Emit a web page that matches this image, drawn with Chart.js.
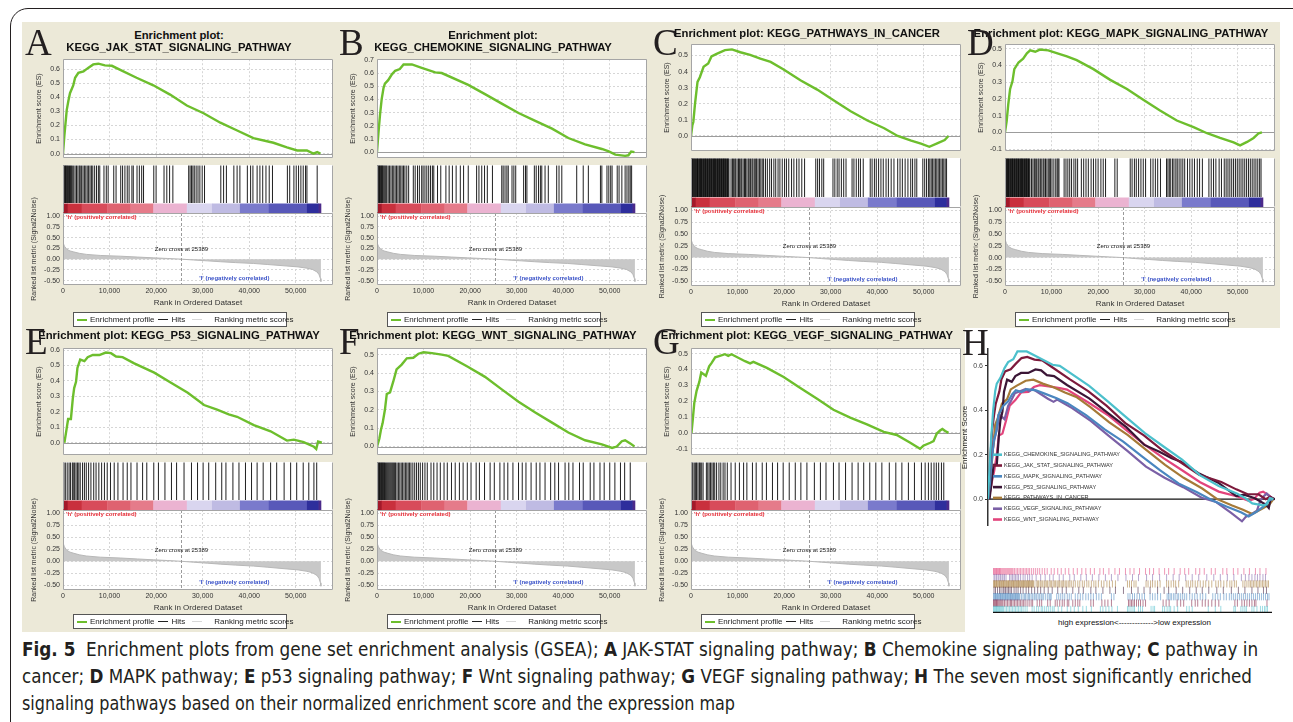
<!DOCTYPE html>
<html lang="en">
<head>
<meta charset="UTF-8">
<title>Fig. 5 GSEA enrichment plots</title>
<script src="https://cdn.jsdelivr.net/npm/chart.js"></script>
<style>
  body { margin: 0; background: #fff; }
  #page { position: relative; width: 1293px; height: 722px; overflow: hidden; font-family: "Liberation Sans", Arial, sans-serif; color: #222; }
  #page div { position: absolute; }
  .frame { left: 10px; top: 8px; width: 1320px; height: 760px; border: 1px solid #231f20; border-radius: 18px; }
  .beige { background: #ece9d8; }
  .ttl { font-weight: bold; font-size: 11.3px; line-height: 12px; text-align: center; white-space: nowrap; color: #111; }
  .letter { font-family: "Liberation Serif", "Times New Roman", serif; font-size: 37px; line-height: 37px; color: #231f20; }
  .lg { border: 1px solid #555; background: #fff; font-size: 8px; line-height: 13px; white-space: nowrap; color: #222; box-sizing: border-box; padding-left: 1px; }
  .lg i { display: inline-block; width: 10px; height: 1px; vertical-align: middle; margin: 0 3px 0 2px; }
  .cap { left: 22px; font-size: 19px; line-height: 27px; white-space: nowrap; color: #231f20; transform-origin: 0 50%;
         font-family: "Liberation Sans Narrow", "DejaVu Sans Condensed", "Liberation Sans", sans-serif; }
  .note { font-size: 8px; white-space: nowrap; color: #111; }
  canvas { display: block; }
</style>
</head>
<body>
<div id="page">
  <div class="frame"></div>
  <div class="beige" style="left:22px;top:22px;width:1258px;height:306px"></div>
  <div class="beige" style="left:22px;top:328px;width:943px;height:304px"></div>
  <div class="cap" id="cap1" style="top:636px"><b>Fig. 5</b>&nbsp; Enrichment plots from gene set enrichment analysis (GSEA); <b>A</b> JAK-STAT signaling pathway; <b>B</b> Chemokine signaling pathway; <b>C</b> pathway in</div>
  <div class="cap" id="cap2" style="top:663px">cancer; <b>D</b> MAPK pathway; <b>E</b> p53 signaling pathway; <b>F</b> Wnt signaling pathway; <b>G</b> VEGF signaling pathway; <b>H</b> The seven most significantly enriched</div>
  <div class="cap" id="cap3" style="top:690px">signaling pathways based on their normalized enrichment score and the expression map</div>
</div>
<script>
// ranks are in thousands
const esJakStat = [[0,0],[0.3,0.13],[0.8,0.31],[1.15,0.375],[1.5,0.43],[2.2,0.485],[2.6,0.54],[3.3,0.575],[4.4,0.585],[5.4,0.61],[6.5,0.635],[7.6,0.64],[9.0,0.628],[10.5,0.625],[12.3,0.596],[15.8,0.54],[19.4,0.486],[23.0,0.42],[26.6,0.342],[30.2,0.287],[33.8,0.22],[37.3,0.166],[40.9,0.11],[45.2,0.077],[48.1,0.044],[50.3,0.022],[52.4,0.022],[53.8,0.0],[54.6,0.011],[55.3,0.0]];
const esChemokine = [[0,0],[0.3,0.14],[0.65,0.285],[1.0,0.40],[1.4,0.487],[1.7,0.52],[2.4,0.546],[3.2,0.59],[3.9,0.617],[4.9,0.63],[5.7,0.665],[7.5,0.665],[9.6,0.64],[12.5,0.605],[13.9,0.60],[19.6,0.51],[23.2,0.44],[26.8,0.368],[30.4,0.297],[34.0,0.237],[37.6,0.178],[41.1,0.107],[44.7,0.059],[48.3,0.024],[49.8,0.005],[51.2,-0.019],[53.3,-0.028],[54.0,-0.024],[54.6,0.005],[55.3,0.0]];
const esCancer = [[0,0],[0.3,0.067],[0.5,0.087],[0.86,0.2],[1.4,0.336],[1.9,0.365],[2.7,0.43],[3.7,0.45],[4.4,0.494],[5.5,0.51],[7.3,0.533],[8.8,0.538],[10.6,0.52],[12.7,0.504],[14.9,0.48],[17.1,0.46],[19.9,0.413],[23.5,0.346],[27.1,0.288],[30.7,0.221],[34.3,0.154],[37.9,0.096],[41.5,0.048],[44.4,0.0],[47.3,-0.029],[49.4,-0.048],[51.2,-0.067],[53.0,-0.044],[54.5,-0.025],[55.3,0.0]];
const esMapk = [[0,0],[0.36,0.067],[0.7,0.168],[1.1,0.26],[1.6,0.305],[2.0,0.378],[2.9,0.418],[3.9,0.44],[4.7,0.473],[5.4,0.49],[6.5,0.482],[7.5,0.495],[9.3,0.49],[11.1,0.474],[13.3,0.454],[15.4,0.432],[19.0,0.378],[22.6,0.314],[26.2,0.259],[29.7,0.195],[33.3,0.131],[36.9,0.071],[40.5,0.031],[43.4,-0.005],[46.2,-0.033],[49.1,-0.06],[50.5,-0.078],[52.0,-0.057],[53.4,-0.033],[54.5,-0.005],[55.2,0.0]];
const esP53 = [[0.3,0],[0.64,0.064],[1.1,0.154],[1.7,0.154],[2.1,0.284],[2.4,0.354],[2.8,0.394],[3.1,0.484],[3.7,0.538],[4.6,0.528],[5.3,0.554],[6.4,0.568],[7.8,0.568],[9.2,0.584],[10.3,0.58],[11.4,0.558],[12.8,0.554],[15.3,0.514],[19.6,0.454],[23.2,0.388],[26.8,0.324],[30.3,0.244],[33.1,0.214],[35.6,0.184],[37.4,0.168],[41.0,0.114],[44.6,0.074],[48.1,0.014],[49.6,0.02],[51.7,0.004],[53.9,-0.026],[54.4,-0.04],[54.8,0.008],[55.6,0.0]];
const esWnt = [[0,0],[0.5,0.042],[0.86,0.093],[1.2,0.126],[1.7,0.2],[2.1,0.286],[2.8,0.295],[3.5,0.354],[4.2,0.42],[5.3,0.446],[6.4,0.48],[7.8,0.483],[8.9,0.505],[10.0,0.513],[11.8,0.508],[13.9,0.5],[15.3,0.493],[19.6,0.433],[23.2,0.379],[26.8,0.311],[30.4,0.244],[34.0,0.185],[37.6,0.13],[41.1,0.076],[44.7,0.034],[48.3,0.012],[50.5,-0.008],[51.5,0.0],[52.6,0.029],[53.3,0.034],[54.4,0.017],[55.3,0.0]];
const esVegf = [[0.1,0],[0.36,0.077],[0.7,0.188],[1.2,0.265],[1.8,0.323],[2.2,0.38],[3.2,0.36],[3.9,0.42],[4.4,0.44],[5.2,0.477],[6.2,0.486],[7.3,0.496],[8.0,0.486],[8.7,0.496],[11.6,0.452],[12.7,0.438],[13.4,0.448],[16.3,0.41],[19.9,0.352],[23.4,0.285],[27.0,0.217],[30.6,0.146],[34.2,0.096],[37.8,0.054],[41.4,0.006],[44.2,-0.013],[47.1,-0.062],[49.2,-0.1],[49.9,-0.081],[51.4,-0.062],[52.1,-0.052],[52.8,-0.004],[53.5,0.015],[54.0,0.025],[54.6,0.012],[55.3,0.0]];

const hitsJakStat = [0.1,0.25,0.4,0.55,0.7,0.85,1.0,1.2,1.4,1.6,1.8,2.0,2.3,2.6,2.9,3.2,3.5,3.7,4.0,4.3,4.6,4.9,5.2,5.5,5.8,6.1,6.4,6.8,7.2,7.6,7.9,8.8,9.3,9.7,10.9,11.4,12.4,12.8,13.3,13.8,14.2,14.8,15.1,15.9,16.4,16.9,17.3,19.5,20.0,21.7,22.3,22.9,23.6,27.0,27.3,27.6,27.9,28.2,28.6,29.0,29.4,29.9,30.4,33.9,34.5,35.1,36.7,37.4,38.0,39.6,40.3,40.8,41.7,42.3,42.9,43.6,44.3,45.0,48.2,48.7,49.6,50.1,50.6,51.1,51.6,52.1,52.4,54.6];
const hitsChemokine = [0.1,0.25,0.4,0.55,0.7,0.85,1.0,1.15,1.3,1.5,1.7,1.9,2.1,2.4,2.7,3.0,3.3,3.6,3.9,4.2,4.5,4.8,5.1,5.4,5.7,6.0,6.4,6.8,7.8,8.2,8.7,9.1,9.6,9.9,10.3,10.7,11.1,11.5,11.9,12.2,13.0,13.7,14.8,15.5,16.2,17.0,17.9,18.6,19.6,21.4,21.9,22.5,23.1,23.7,24.8,26.8,27.1,27.5,27.9,28.2,29.0,29.4,29.8,31.5,31.9,32.2,33.8,34.2,34.7,35.1,35.4,36.1,36.8,38.6,39.1,39.7,42.9,44.3,45.4,48.0,48.3,49.4,49.8,50.2,50.5,51.6,52.0,52.6,53.3,53.7,54.1,54.4,54.7];
const hitsCancer = [0.05,0.2,0.3,0.45,0.6,0.7,0.85,1.0,1.15,1.3,1.4,1.55,1.7,1.85,2.0,2.1,2.25,2.4,2.55,2.7,2.85,3.0,3.1,3.25,3.4,3.55,3.7,3.85,4.0,4.1,4.25,4.4,4.55,4.7,4.85,5.0,5.1,5.25,5.4,5.55,5.7,5.85,6.0,6.1,6.25,6.4,6.55,6.7,6.85,7.0,7.1,7.25,7.4,7.55,7.7,7.85,8.0,8.15,8.6,8.9,9.1,9.4,9.6,9.9,10.2,10.4,10.7,10.9,11.2,11.5,11.7,12.0,12.3,12.5,12.8,13.1,13.3,13.6,13.9,14.1,14.4,14.7,15.0,15.3,15.6,16.0,16.4,16.9,17.3,17.8,18.2,18.7,19.1,19.6,20.1,20.5,21.0,21.6,22.1,22.7,23.2,23.8,24.4,26.8,27.2,27.6,28.1,28.5,30.5,30.9,31.4,31.8,32.3,32.8,33.3,34.6,35.0,35.5,36.0,36.4,37.0,38.5,38.9,39.4,39.8,40.3,40.8,41.3,41.9,42.4,43.0,43.6,44.4,44.9,45.4,46.0,46.6,47.2,47.6,48.1,48.5,49.8,50.2,50.6,51.0,51.3,51.6,51.9,52.2,52.5,52.8,53.1,53.4,53.7,54.0,54.3,54.6,54.9];
const hitsMapk = [0.05,0.2,0.35,0.5,0.6,0.75,0.9,1.05,1.2,1.35,1.5,1.6,1.75,1.9,2.05,2.2,2.35,2.5,2.6,2.75,2.9,3.05,3.2,3.35,3.5,3.6,3.75,3.9,4.05,4.2,4.35,4.5,4.6,4.75,4.9,5.05,5.2,5.35,5.7,6.0,6.3,6.5,6.8,7.1,7.3,7.6,7.9,8.2,8.4,8.7,9.0,9.3,9.6,9.8,10.1,10.5,10.9,11.2,11.4,11.6,12.7,13.1,13.5,13.9,14.3,14.8,15.2,15.6,16.4,16.9,17.4,17.9,18.5,19.0,19.5,20.0,20.6,21.1,21.6,23.6,24.1,26.9,27.3,27.8,28.2,28.7,29.2,29.7,30.2,31.3,31.8,32.3,32.8,33.4,34.7,35.0,35.3,35.6,36.0,36.3,36.7,37.0,37.4,37.8,38.2,38.6,39.2,39.7,40.2,40.7,41.3,41.8,42.4,43.8,44.3,44.8,45.3,46.0,46.5,47.1,47.5,47.9,48.3,48.7,49.1,49.5,49.9,50.3,50.7,51.1,51.5,51.9,52.3,52.7,53.1,53.5,53.9,54.3,54.7,55.0];
const hitsP53 = [0.2,0.5,0.9,1.3,1.6,2.0,2.2,2.5,2.8,3.1,3.4,3.7,4.2,4.6,5.0,5.5,6.0,6.6,7.1,7.7,8.3,8.9,9.5,10.2,11.0,11.8,12.9,13.8,14.6,15.9,17.1,18.0,19.5,20.5,21.9,23.3,24.4,26.0,27.6,28.9,30.1,31.3,32.8,34.1,35.0,36.5,37.8,39.2,40.5,41.7,43.0,44.6,45.9,47.5,48.9,50.2,51.6,52.8,53.9,54.5];
const hitsWnt = [0.1,0.25,0.4,0.55,0.7,0.85,1.0,1.15,1.3,1.45,1.6,1.8,2.0,2.2,2.4,2.6,2.8,3.0,3.2,3.4,3.6,3.8,4.0,4.3,4.6,4.9,5.2,5.5,5.8,6.1,6.4,6.7,7.0,7.3,7.7,8.1,8.5,8.9,9.3,9.8,10.3,10.8,11.6,12.2,12.9,13.6,14.4,15.1,16.0,16.8,17.7,18.5,19.4,20.2,21.3,22.0,23.1,24.3,25.2,26.4,27.3,28.1,29.2,30.4,31.2,32.0,33.1,34.2,35.0,36.1,37.3,38.2,39.0,40.4,41.2,42.1,43.5,44.3,45.8,46.6,47.9,48.8,50.0,51.1,52.3,53.2,54.4];
const hitsVegf = [0.2,0.4,0.7,1.0,1.2,1.5,1.8,2.0,2.3,2.6,3.3,3.6,3.9,4.2,4.5,4.8,5.1,5.5,6.0,6.4,6.9,7.3,7.8,8.6,9.5,10.4,11.3,12.0,13.2,14.0,15.3,16.2,17.5,18.6,19.8,21.1,22.4,23.6,24.9,26.5,27.8,29.0,30.6,31.8,33.2,34.6,35.9,37.1,38.4,39.7,41.0,42.6,44.0,45.3,46.7,48.0,49.5,50.3,51.0,51.6,52.2,52.7,53.2,53.8,54.3];

const rankPos = [0,0.1,0.3,0.8,1.5,2.2,3.5,5,8,12.3,16,19.4,22.5,25.389,28,31,33.8,37,40.9,44,48.1,50.5,52.4,53.6,54.6,55.0,55.3,55.4];
const rankMetric = [0.42,0.36,0.3,0.23,0.19,0.17,0.135,0.11,0.085,0.068,0.048,0.03,0.015,0,-0.02,-0.04,-0.06,-0.08,-0.1,-0.125,-0.16,-0.18,-0.21,-0.24,-0.3,-0.36,-0.45,-0.52];
const zeroCross = 25.389;
const bandEdges = [0,1.0,4.0,9.5,14.5,19.4,26.6,32,38,44.2,52.4,54.9,55.4];
const bandColours = ['#a3192a','#c9303d','#d84b5a','#df6270','#e57b8a','#ebb3d1','#d9d5ef','#bfbbe3','#7a7acc','#5858b9','#2e2e9c','#4b2a8a'];

// axis ranges (ES min, ES max)
const panels = [
  {id:'A', name:'KEGG_JAK_STAT_SIGNALING_PATHWAY', es:esJakStat, hits:hitsJakStat, range:[-0.03,0.672], col:0, row:'top2'},
  {id:'B', name:'KEGG_CHEMOKINE_SIGNALING_PATHWAY', es:esChemokine, hits:hitsChemokine, range:[-0.043,0.705], col:1, row:'top2'},
  {id:'C', name:'KEGG_PATHWAYS_IN_CANCER', es:esCancer, hits:hitsCancer, range:[-0.092,0.57], col:2, row:'top1'},
  {id:'D', name:'KEGG_MAPK_SIGNALING_PATHWAY', es:esMapk, hits:hitsMapk, range:[-0.11,0.527], col:3, row:'top1'},
  {id:'E', name:'KEGG_P53_SIGNALING_PATHWAY', es:esP53, hits:hitsP53, range:[-0.078,0.612], col:0, row:'bottom'},
  {id:'F', name:'KEGG_WNT_SIGNALING_PATHWAY', es:esWnt, hits:hitsWnt, range:[-0.045,0.535], col:1, row:'bottom'},
  {id:'G', name:'KEGG_VEGF_SIGNALING_PATHWAY', es:esVegf, hits:hitsVegf, range:[-0.138,0.534], col:2, row:'bottom'}
];
// legend order in panel H
const hNames = ['KEGG_CHEMOKINE_SIGNALING_PATHWAY','KEGG_JAK_STAT_SIGNALING_PATHWAY','KEGG_MAPK_SIGNALING_PATHWAY','KEGG_P53_SIGNALING_PATHWAY','KEGG_PATHWAYS_IN_CANCER','KEGG_VEGF_SIGNALING_PATHWAY','KEGG_WNT_SIGNALING_PATHWAY'];
const hColours = ['#4cc0cc','#7d1a3c','#4a86c0','#3b1636','#a67a38','#7b60a6','#e2447c'];
const hTicks = [0, 0.2, 0.4, 0.6];

// layout
const rows = {
  top2:   {titles:[35,47], esTop:58,  esBot:165, hitsBot:213, rankBot:285, legendTop:312, letterTop:30},
  top1:   {titles:[33],    esTop:43,  esBot:158, hitsBot:207, rankBot:286, legendTop:312, letterTop:30},
  bottom: {titles:[335],   esTop:347, esBot:462, hitsBot:510, rankBot:590, legendTop:614, letterTop:329}
};
const BOX_W = 270, X_MAX = 58, GREEN = '#6dbe2d', GRID = '#d6d6d6';

Chart.defaults.font.family = '"Liberation Sans", Arial, sans-serif';
Chart.defaults.animation = false;
Chart.defaults.events = [];
Chart.defaults.plugins.legend.display = false;
Chart.defaults.plugins.tooltip.enabled = false;

const page = document.getElementById('page');
function place(cls, left, top, w, h, html) {
  const d = document.createElement('div');
  d.className = cls;
  d.style.left = left + 'px'; d.style.top = top + 'px';
  if (w != null) d.style.width = w + 'px';
  if (h != null) d.style.height = h + 'px';
  if (html) d.innerHTML = html;
  page.appendChild(d);
  return d;
}
function makeCanvas(left, top, w, h) {
  const wrap = place('', left, top, w, h);
  const cv = document.createElement('canvas');
  cv.width = w; cv.height = h;
  cv.style.width = w + 'px'; cv.style.height = h + 'px';
  wrap.appendChild(cv);
  return cv;
}
const toXY = arr => arr.map(([x, y]) => ({x, y}));
const fmtRank = v => (v * 1000).toLocaleString('en-US');

const paintArea = { id: 'paintArea', beforeDraw(ch) {
  const a = ch.chartArea, c = ch.ctx;
  c.save(); c.fillStyle = '#fff'; c.fillRect(a.left, a.top, a.right - a.left, a.bottom - a.top); c.restore();
}};
function outline(sides) {
  return { id: 'outline', afterDraw(ch) {
    const a = ch.chartArea, c = ch.ctx;
    const l = Math.round(a.left) + 0.5, r = Math.round(a.right) - 0.5, t = Math.round(a.top) + 0.5, b = Math.round(a.bottom) - 0.5;
    c.save(); c.strokeStyle = '#a5a5a5'; c.lineWidth = 1; c.beginPath();
    if (sides.includes('t')) { c.moveTo(l, t); c.lineTo(r, t); }
    if (sides.includes('b')) { c.moveTo(l, b); c.lineTo(r, b); }
    if (sides.includes('l')) { c.moveTo(l, t); c.lineTo(l, b); }
    if (sides.includes('r')) { c.moveTo(r, t); c.lineTo(r, b); }
    c.stroke(); c.restore();
  }};
}
const zeroLine = { id: 'zeroLine', beforeDatasetsDraw(ch) {
  const a = ch.chartArea, c = ch.ctx, y = Math.round(ch.scales.y.getPixelForValue(0)) + 0.5;
  c.save(); c.strokeStyle = '#9c9c9c'; c.lineWidth = 1;
  c.beginPath(); c.moveTo(a.left, y); c.lineTo(a.right, y); c.stroke(); c.restore();
}};
const colourBar = { id: 'colourBar', beforeDatasetsDraw(ch) {
  const xs = ch.scales.x, ys = ch.scales.y, c = ch.ctx;
  const y1 = ys.getPixelForValue(0), y2 = ys.getPixelForValue(ys.min);
  c.save();
  for (let i = 0; i < bandColours.length; i++) {
    const x1 = xs.getPixelForValue(bandEdges[i]), x2 = xs.getPixelForValue(bandEdges[i + 1]);
    c.fillStyle = bandColours[i];
    c.fillRect(x1, y1, x2 - x1 + 0.4, y2 - y1);
  }
  c.restore();
}};
const rankNotes = { id: 'rankNotes', afterDatasetsDraw(ch) {
  const xs = ch.scales.x, ys = ch.scales.y, a = ch.chartArea, c = ch.ctx;
  const xz = Math.round(xs.getPixelForValue(zeroCross)) + 0.5;
  c.save();
  c.strokeStyle = '#9a9a9a'; c.lineWidth = 1; c.setLineDash([3, 2]);
  c.beginPath(); c.moveTo(xz, a.top); c.lineTo(xz, a.bottom); c.stroke(); c.setLineDash([]);
  c.font = 'bold 6px "Liberation Sans", Arial'; c.fillStyle = '#e8323c'; c.textAlign = 'left'; c.textBaseline = 'top';
  c.fillText("'h' (positively correlated)", a.left + 3, a.top + 1);
  c.font = '6px "Liberation Sans", Arial'; c.fillStyle = '#222'; c.textAlign = 'center'; c.textBaseline = 'middle';
  c.fillText('Zero cross at ' + Math.round(zeroCross * 1000), xz, ys.getPixelForValue(0.23));
  c.font = 'bold 6px "Liberation Sans", Arial'; c.fillStyle = '#3a52c8';
  c.fillText("'l' (negatively correlated)", xs.getPixelForValue(36.8), ys.getPixelForValue(-0.45));
  c.restore();
}};

function xAxisBase(extra) {
  return Object.assign({ type: 'linear', min: 0, max: X_MAX,
    grid: { color: GRID, drawTicks: false }, border: { display: false, dash: [2, 2] } }, extra);
}

function esChart(p, L, boxL) {
  const W = 28;
  const cv = makeCanvas(boxL - W, L.esTop - 6, W + BOX_W + 2, L.esBot - L.esTop + 6);
  new Chart(cv, {
    type: 'line',
    data: { datasets: [{ label: 'Enrichment profile', data: toXY(p.es), borderColor: GREEN, borderWidth: 2.4, pointRadius: 0, tension: 0 }] },
    options: {
      responsive: false,
      layout: { padding: { top: 6, right: 2, left: 0, bottom: 0 } },
      scales: {
        x: xAxisBase({ ticks: { display: false, stepSize: 10, includeBounds: false }, afterFit: s => { s.height = 0; } }),
        y: { min: p.range[0], max: p.range[1],
             ticks: { stepSize: 0.1, includeBounds: false, autoSkip: false, callback: v => v.toFixed(1), font: { size: 7 }, color: '#333', padding: 3 },
             grid: { color: GRID, drawTicks: false }, border: { display: false, dash: [2, 2] },
             title: { display: true, text: 'Enrichment score (ES)', font: { size: 7 }, color: '#333', padding: 0 },
             afterFit: s => { s.width = W; } }
      }
    },
    plugins: [paintArea, zeroLine, outline('tblr')]
  });
}

function hitsChart(p, L, boxL) {
  const h = L.hitsBot - L.esBot, cb = 9.5;
  const cv = makeCanvas(boxL, L.esBot, BOX_W + 2, h);
  new Chart(cv, {
    type: 'scatter',
    data: { datasets: [{ label: 'Hits', data: p.hits.map(x => ({x, y: 0.5})),
      pointStyle: 'line', pointRotation: 90, pointBorderColor: 'rgba(0,0,0,0.88)', pointBorderWidth: 1,
      pointRadius: ctx => { const y = ctx.chart.scales.y; return (y.getPixelForValue(0) - y.getPixelForValue(1)) / 2 - 0.5; } }] },
    options: {
      responsive: false,
      layout: { padding: { right: 2 } },
      scales: { x: { type: 'linear', display: false, min: 0, max: X_MAX }, y: { display: false, min: -cb / (h - cb), max: 1 } }
    },
    plugins: [paintArea, colourBar, outline('lr')]
  });
}

function rankChart(p, L, boxL) {
  const W = 33, padTop = L.hitsBot - L.esBot;
  const cv = makeCanvas(boxL - W, L.esBot, W + BOX_W + 2, L.rankBot - L.esBot + 23);
  new Chart(cv, {
    type: 'line',
    data: { datasets: [{ label: 'Ranking metric scores', data: rankPos.map((x, i) => ({x, y: rankMetric[i]})),
      borderColor: '#b8b8b8', backgroundColor: '#c8c8c8', borderWidth: 1, pointRadius: 0, fill: 'origin' }] },
    options: {
      responsive: false,
      layout: { padding: { top: padTop, right: 2, left: 0, bottom: 0 } },
      scales: {
        x: xAxisBase({ ticks: { stepSize: 10, includeBounds: false, callback: fmtRank, font: { size: 7 }, color: '#333', padding: 2, maxRotation: 0 },
             title: { display: true, text: 'Rank in Ordered Dataset', font: { size: 8 }, color: '#333', padding: { top: 2, bottom: 0 } },
             afterFit: s => { s.height = 23; } }),
        y: { min: -0.6, max: 1.07,
             ticks: { stepSize: 0.25, includeBounds: false, autoSkip: false, callback: v => v.toFixed(2), font: { size: 7 }, color: '#333', padding: 3 },
             grid: { color: GRID, drawTicks: false }, border: { display: false, dash: [2, 2] },
             title: { display: true, text: 'Ranked list metric (Signal2Noise)', font: { size: 7 }, color: '#333', padding: 0 },
             afterFit: s => { s.width = W; } }
      }
    },
    plugins: [paintArea, rankNotes, outline('tblr')]
  });
}

panels.forEach(p => {
  const L = rows[p.row];
  const panelLeft = 22 + 314 * p.col, boxL = 63 + 314 * p.col;
  esChart(p, L, boxL);
  hitsChart(p, L, boxL);
  rankChart(p, L, boxL);
  const lines = L.titles.length === 2 ? ['Enrichment plot:', p.name] : ['Enrichment plot: ' + p.name];
  lines.forEach((t, i) => place('ttl', panelLeft, L.titles[i] - 6, 314, 12).textContent = t);
  place('lg', boxL + 10, L.legendTop, 214, 15,
    '<i style="background:' + GREEN + ';height:2px"></i>Enrichment profile<i style="background:#222;margin-left:4px"></i>Hits' +
    '<i style="background:#d8d8d8;margin-left:7px"></i><span style="margin-left:9px">Ranking metric scores</span>');
  place('letter', panelLeft + 3, L.letterTop - 6.5).textContent = p.id;
});

// panel H
const hSets = [esChemokine, esJakStat, esMapk, esP53, esCancer, esVegf, esWnt];
const hHits = [hitsChemokine, hitsJakStat, hitsMapk, hitsP53, hitsCancer, hitsVegf, hitsWnt];
const H_MAX = 55.6;
const hZero = { id: 'hZero', beforeDatasetsDraw(ch) {
  const a = ch.chartArea, c = ch.ctx, y = ch.scales.y.getPixelForValue(0);
  c.save(); c.strokeStyle = '#111'; c.lineWidth = 1.3;
  c.beginPath(); c.moveTo(a.left, y); c.lineTo(a.right, y); c.stroke(); c.restore();
}};
const hLegend = { id: 'hLegend', afterDatasetsDraw(ch) {
  const a = ch.chartArea, c = ch.ctx, y0 = ch.scales.y.getPixelForValue(0.2);
  c.save();
  c.font = '5.6px "Liberation Sans", Arial'; c.textBaseline = 'middle'; c.textAlign = 'left';
  ch.data.datasets.forEach((ds, i) => {
    const y = y0 + i * 10.8;
    c.strokeStyle = ds.borderColor; c.lineWidth = 2.6;
    c.beginPath(); c.moveTo(a.left + 5, y); c.lineTo(a.left + 14, y); c.stroke();
    c.fillStyle = '#333'; c.fillText(ds.label, a.left + 16, y);
  });
  c.restore();
}};
(function () {
  const W = 31, left = 988, right = 1275, top = 343, bottom = 532;
  const cv = makeCanvas(left - W, top, W + (right - left) + 2, bottom - top);
  new Chart(cv, {
    type: 'line',
    data: { datasets: hSets.map((es, i) => ({ label: hNames[i], data: toXY(es), borderColor: hColours[i], borderWidth: 2.2, pointRadius: 0, tension: 0 })) },
    options: {
      responsive: false,
      layout: { padding: { top: 5, right: 2, left: 0, bottom: 4 } },
      scales: {
        x: { type: 'linear', display: false, min: 0, max: H_MAX },
        y: { min: -0.12, max: 0.675,
             afterBuildTicks: s => { s.ticks = hTicks.map(v => ({ value: v })); },
             ticks: { autoSkip: false, callback: v => v.toFixed(1), font: { size: 7 }, color: '#444', padding: 2 },
             grid: { drawOnChartArea: false, drawTicks: true, tickLength: 3, color: '#333' },
             border: { display: true, color: '#333', width: 1.5 },
             title: { display: true, text: 'Enrichment Score', font: { size: 8 }, color: '#222', padding: { top: 3, bottom: 0 } },
             afterFit: s => { s.width = W; } }
      }
    },
    plugins: [hZero, hLegend]
  });
})();
const fade = (hex, a) => 'rgba(' + [1, 3, 5].map(i => parseInt(hex.substr(i, 2), 16)).join(',') + ',' + a + ')';
const hBase = { id: 'hBase', afterDraw(ch) {
  const a = ch.chartArea, c = ch.ctx;
  c.save(); c.strokeStyle = '#111'; c.lineWidth = 1.2;
  c.beginPath(); c.moveTo(a.left, a.bottom - 0.6); c.lineTo(a.right, a.bottom - 0.6); c.stroke(); c.restore();
}};
(function () {
  const cv = makeCanvas(988, 563, 289, 55);
  new Chart(cv, {
    type: 'scatter',
    data: { datasets: hHits.map((hits, i) => ({ label: hNames[i], data: hits.map(x => ({x, y: i})),
      pointStyle: 'line', pointRotation: 90, pointRadius: 3.6, pointBorderWidth: 1, pointBorderColor: fade(hColours[i], 0.55) })) },
    options: {
      responsive: false,
      layout: { padding: { right: 1 } },
      scales: { x: { type: 'linear', display: false, min: 0, max: H_MAX }, y: { display: false, min: -0.55, max: 6.5 } }
    },
    plugins: [hBase]
  });
})();
place('note', 1058, 618, 150, 11, 'high expression&lt;-------------&gt;low expression').style.textAlign = 'center';
place('letter', 962, 330 - 6.5).textContent = 'H';

// fit caption lines to the printed line lengths
[['cap1', 1236], ['cap2', 1230], ['cap3', 713]].forEach(([id, w]) => {
  const el = document.getElementById(id);
  el.style.transform = 'scaleX(' + (w / el.offsetWidth) + ')';
});
</script>
</body>
</html>
